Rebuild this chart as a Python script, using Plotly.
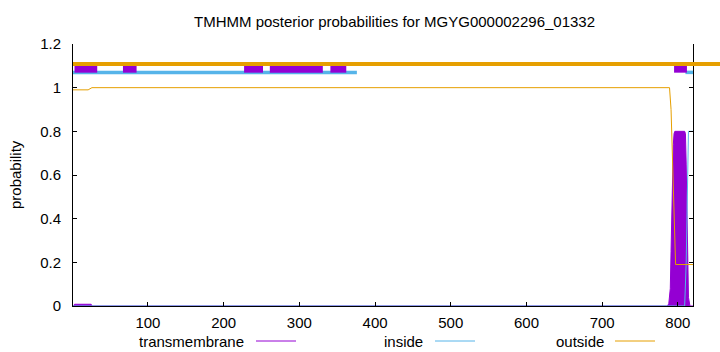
import plotly.graph_objects as go

# ---- data ----
seq_len = 820
title = "TMHMM posterior probabilities for MGYG000002296_01332"

# predicted topology segments drawn above the plot (start, end)
tm_segments = [(3, 33), (67, 85), (227, 252), (261, 331), (341, 362), (795, 812)]
inside_segments = [(1, 376), (810, 820)]

# posterior probability profiles (residue, probability)
tm_x = [1, 2, 3, 25, 26, 786, 788, 790, 791, 792, 793, 794, 795, 796, 809, 810, 811, 812, 813, 814, 816, 820]
tm_y = [0, 0, 0.008, 0.008, 0, 0, 0.01, 0.08, 0.25, 0.45, 0.62, 0.74, 0.79, 0.8, 0.8, 0.79, 0.65, 0.4, 0.15, 0.04, 0, 0]

inside_x = [1, 809, 811, 813, 814, 820]
inside_y = [0, 0, 0.2, 0.7, 0.8, 0.8]

outside_x = [1, 21, 26, 789, 791, 793, 795, 797, 820]
outside_y = [0.99, 0.99, 1.0, 1.0, 0.9, 0.65, 0.38, 0.19, 0.19]

legend_names = ["transmembrane", "inside", "outside"]

PURPLE = "#9400D3"
BLUE = "#56B4E9"
ORANGE = "#E69F00"
FONT = "Liberation Sans"
FS = 15


def seg_xy(segs, level):
    xs, ys = [], []
    for a, b in segs:
        xs += [a, b, None]
        ys += [level, level, None]
    return xs, ys


fig = go.Figure()

# posterior curves
fig.add_trace(go.Scatter(x=tm_x, y=tm_y, mode="lines", fill="tozeroy",
                         fillcolor=PURPLE, line=dict(color=PURPLE, width=1),
                         showlegend=False, hoverinfo="skip"))
fig.add_trace(go.Scatter(x=inside_x, y=inside_y, mode="lines",
                         line=dict(color=BLUE, width=1), showlegend=False))
fig.add_trace(go.Scatter(x=outside_x, y=outside_y, mode="lines",
                         line=dict(color=ORANGE, width=1), showlegend=False))

# topology bars at the top
bx, by = seg_xy(inside_segments, 1.07)
fig.add_trace(go.Scatter(x=bx, y=by, mode="lines", line=dict(color=BLUE, width=3.5),
                         showlegend=False))
px_, py_ = seg_xy(tm_segments, 1.087)
fig.add_trace(go.Scatter(x=px_, y=py_, mode="lines", line=dict(color=PURPLE, width=8),
                         showlegend=False))

shapes = []
# outside bar runs past the right border
shapes.append(dict(type="line", xref="paper", yref="y", x0=0, x1=1.1, y0=1.108, y1=1.108,
                   line=dict(color=ORANGE, width=4), layer="above"))

# manual gnuplot-style legend: text then line sample
leg_text_x = [246, 425, 606]
leg_line_x = [(256, 296), (435, 475), (615, 655)]
leg_colors = [PURPLE, BLUE, ORANGE]
L, R, T, B = 73, 27, 44, 46
W = 720 - L - R
H = 352 - T - B
leg_y = (352 - B - 341) / H
annotations = [dict(text=title, xref="paper", yref="paper",
                    x=(394 - L) / W, y=(T + H - 22) / H, xanchor="center", yanchor="middle",
                    showarrow=False, font=dict(family=FONT, size=FS, color="black")),
               dict(text="probability", xref="paper", yref="paper",
                    x=(15 - L) / W, y=(352 - B - 175) / H, xanchor="center", yanchor="middle",
                    textangle=-90, showarrow=False, font=dict(family=FONT, size=FS, color="black"))]
for name, tx, (l0, l1), c in zip(legend_names, leg_text_x, leg_line_x, leg_colors):
    annotations.append(dict(text=name, xref="paper", yref="paper", x=(tx - L) / W, y=leg_y,
                            xanchor="right", yanchor="middle", showarrow=False,
                            font=dict(family=FONT, size=FS, color="black")))
    shapes.append(dict(type="line", xref="paper", yref="paper", x0=(l0 - L) / W, x1=(l1 - L) / W,
                       y0=leg_y, y1=leg_y, line=dict(color=c, width=1)))

fig.update_layout(
    width=720, height=352,
    margin=dict(l=L, r=R, t=T, b=B),
    paper_bgcolor="white", plot_bgcolor="white",
    showlegend=False,
    shapes=shapes, annotations=annotations,
    font=dict(family=FONT, size=FS, color="black"),
)
fig.update_xaxes(range=[1, seq_len], tick0=0, dtick=100, ticks="inside", ticklen=4,
                 showline=True, linecolor="black", linewidth=1, mirror=False,
                 showgrid=False, zeroline=False, tickcolor="black", ticklabelstandoff=3)
fig.update_yaxes(range=[0, 1.2], dtick=0.2, ticks="inside", ticklen=4,
                 showline=True, linecolor="black", linewidth=1, mirror="ticks",
                 showgrid=False, zeroline=False, tickcolor="black", ticklabelstandoff=8)

fig.write_html("out.html")
